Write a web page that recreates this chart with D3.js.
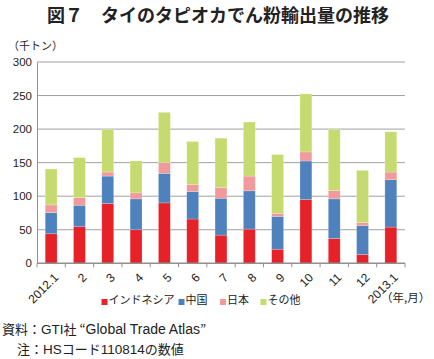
<!DOCTYPE html>
<html><head><meta charset="utf-8">
<script src="https://cdn.jsdelivr.net/npm/d3@7/dist/d3.min.js"></script>
<style>body{margin:0;background:#fff;}svg{display:block;font-family:"Noto Sans CJK JP","Noto Sans",sans-serif;}</style>
</head><body>
<svg id="c" width="434" height="359"></svg>
<script>
const months = ["2012.1","2","3","4","5","6","7","8","9","10","11","12","2013.1"];
const seriesNames = ["インドネシア","中国","日本","その他"];
const indonesia = [44, 54.5, 89, 50, 90, 66, 42, 51, 21, 95, 37, 13, 54];
const china = [31.5, 32, 41, 46, 44, 41, 55, 57, 49, 57.5, 59, 43, 70.5];
const japan = [11.5, 11.5, 6, 9, 16, 10.5, 16, 22, 4.5, 13.5, 12.5, 4.5, 11.5];
const other = [53.5, 59.5, 63.5, 47.5, 75, 64, 73.5, 80.5, 87.5, 86.5, 91, 78, 60];
const yTicks = [0, 50, 100, 150, 200, 250, 300];
const colors = ["#e62128", "#4f81bd", "#f19a9b", "#c6db6f"];

const svg = d3.select("#c");
const L = 37, R = 405, T = 62, B = 263.3;
const rows = months.map((m, i) => ({m, "インドネシア": indonesia[i], "中国": china[i], "日本": japan[i], "その他": other[i]}));
const stack = d3.stack().keys(seriesNames)(rows);
const x = d3.scaleBand().domain(months).range([L, R]).paddingInner(0.58).paddingOuter(0.29);
const xb = d3.scaleBand().domain(months).range([L, R]);
const y = d3.scaleLinear().domain([0, 300]).range([B, T]);
const latin = "Liberation Sans, Arial, sans-serif";

// title
svg.append("text").attr("x", 218).attr("y", 22).attr("text-anchor", "middle")
  .attr("font-size", 18).attr("font-weight", "bold").attr("fill", "#222").text("図７　タイのタピオカでん粉輸出量の推移");
svg.append("text").attr("x", 8).attr("y", 50).attr("font-size", 11).attr("fill", "#222").text("（千トン）");

// grid
svg.append("g").selectAll("line").data(yTicks.filter(d => d > 0)).join("line")
  .attr("x1", L).attr("x2", R).attr("y1", d => y(d)).attr("y2", d => y(d))
  .attr("stroke", "#a0a0a0").attr("stroke-width", 1);

// y axis
const ya = svg.append("g").attr("transform", `translate(${L},0)`)
  .call(d3.axisLeft(y).tickValues(yTicks).tickSize(0).tickPadding(5));
ya.select(".domain").attr("stroke", "#909090");
ya.selectAll("text").attr("font-size", 11.5).attr("fill", "#222").attr("font-family", latin);

// bars
svg.append("g").selectAll("g").data(stack).join("g").attr("fill", (d, i) => colors[i])
  .selectAll("rect").data(d => d).join("rect")
  .attr("x", d => x(d.data.m)).attr("width", x.bandwidth())
  .attr("y", d => y(d[1])).attr("height", d => y(d[0]) - y(d[1]))
  .attr("stroke", "rgba(255,255,255,0.35)").attr("stroke-width", 0.6);

// x axis
svg.append("line").attr("x1", L).attr("x2", R).attr("y1", B).attr("y2", B).attr("stroke", "#909090").attr("stroke-width", 1.5);
const bounds = months.map(m => xb(m)).concat([R]);
svg.append("g").selectAll("line").data(bounds).join("line")
  .attr("x1", d => d).attr("x2", d => d).attr("y1", B).attr("y2", B + 4).attr("stroke", "#909090");
svg.append("g").selectAll("text").data(months).join("text")
  .attr("transform", d => `translate(${xb(d) + xb.bandwidth() / 2 + 5},${B + 12}) rotate(-45)`)
  .attr("text-anchor", "end").attr("dy", "0.35em").attr("font-size", 12).attr("fill", "#222")
  .attr("font-family", latin).text(d => d);

svg.append("text").attr("x", 381).attr("y", 302).attr("font-size", 11.5).attr("fill", "#222").text("（年,月）");

// legend
const legX = [101.5, 178.5, 220, 260.5];
const lg = svg.append("g").selectAll("g").data(seriesNames).join("g")
  .attr("transform", (d, i) => `translate(${legX[i]},300)`);
lg.append("rect").attr("x", 0).attr("y", -1).attr("width", 6).attr("height", 6).attr("fill", (d, i) => colors[i]);
lg.append("text").attr("x", 7).attr("dy", "0.35em").attr("font-size", 11).attr("fill", "#222").text(d => d);

// footer
const f1 = svg.append("text").attr("x", 2).attr("y", 334).attr("font-size", 13).attr("fill", "#222");
f1.append("tspan").text("資料：");
f1.append("tspan").attr("font-family", latin).attr("font-size", 13.5).text("GTI");
f1.append("tspan").text("社 “");
f1.append("tspan").attr("font-family", latin).attr("font-size", 14).text("Global Trade Atlas");
f1.append("tspan").text("”");
const f2 = svg.append("text").attr("x", 17).attr("y", 354).attr("font-size", 13).attr("fill", "#222");
f2.append("tspan").text("注：");
f2.append("tspan").attr("font-family", latin).attr("font-size", 13.5).text("HS");
f2.append("tspan").text("コード");
f2.append("tspan").attr("font-family", latin).attr("font-size", 13.5).text("110814");
f2.append("tspan").text("の数値");
</script>
</body></html>
